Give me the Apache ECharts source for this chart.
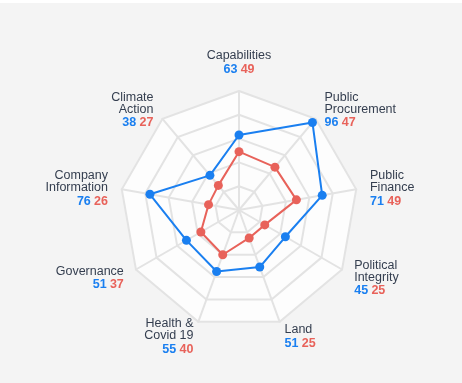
<!DOCTYPE html>
<html>
<head>
<meta charset="utf-8">
<script src="https://cdn.jsdelivr.net/npm/echarts@6/dist/echarts.min.js"></script>
<style>
  html, body { margin: 0; padding: 0; background: #ffffff; }
  #chart { position: absolute; left: 0; top: 3px; width: 462px; height: 380px; }
</style>
</head>
<body>
<div id="chart"></div>
<script>
// Indicators in ECharts order (counter-clockwise from top)
const categories = [
  'Capabilities',
  'Climate\nAction',
  'Company\nInformation',
  'Governance',
  'Health &\nCovid 19',
  'Land',
  'Political\nIntegrity',
  'Public\nFinance',
  'Public\nProcurement'
];
const blueValues = [63, 38, 76, 51, 55, 51, 45, 71, 96];
const redValues  = [49, 27, 26, 37, 40, 25, 25, 49, 47];
const maxValue = 100;

const BLUE = '#1a7ff0';
const RED = '#e8625a';
const FONT = 'Liberation Sans, Arial, sans-serif';

const chart = echarts.init(document.getElementById('chart'), null, { renderer: 'canvas' });
chart.setOption({
  backgroundColor: '#f4f4f4',
  animation: false,
  radar: {
    center: [239, 207],
    radius: 119,
    startAngle: 90,
    splitNumber: 5,
    shape: 'polygon',
    nameGap: 14,
    indicator: categories.map(function (c) { return { name: c, max: maxValue }; }),
    axisName: {
      padding: [5, 0, 0, 0],
      formatter: function (name) {
        const i = categories.indexOf(name);
        return '{n|' + name + '}\n{b|' + blueValues[i] + '} {r|' + redValues[i] + '}';
      },
      rich: {
        n: { fontFamily: FONT, fontSize: 12.5, color: '#343e4f', lineHeight: 12 },
        b: { fontFamily: FONT, fontSize: 12.5, fontWeight: 'bold', color: BLUE, lineHeight: 15 },
        r: { fontFamily: FONT, fontSize: 12.5, fontWeight: 'bold', color: RED, lineHeight: 15 }
      }
    },
    splitLine: { lineStyle: { color: '#e3e3e3', width: 2 } },
    axisLine: { lineStyle: { color: '#e3e3e3', width: 2 } },
    splitArea: { show: true, areaStyle: { color: ['#fdfdfd'] } }
  },
  series: [{
    type: 'radar',
    symbol: 'circle',
    symbolSize: 9,
    data: [
      { value: blueValues, name: 'A', lineStyle: { color: BLUE, width: 2 }, itemStyle: { color: BLUE } },
      { value: redValues, name: 'B', lineStyle: { color: RED, width: 2 }, itemStyle: { color: RED } }
    ]
  }]
});
</script>
</body>
</html>
